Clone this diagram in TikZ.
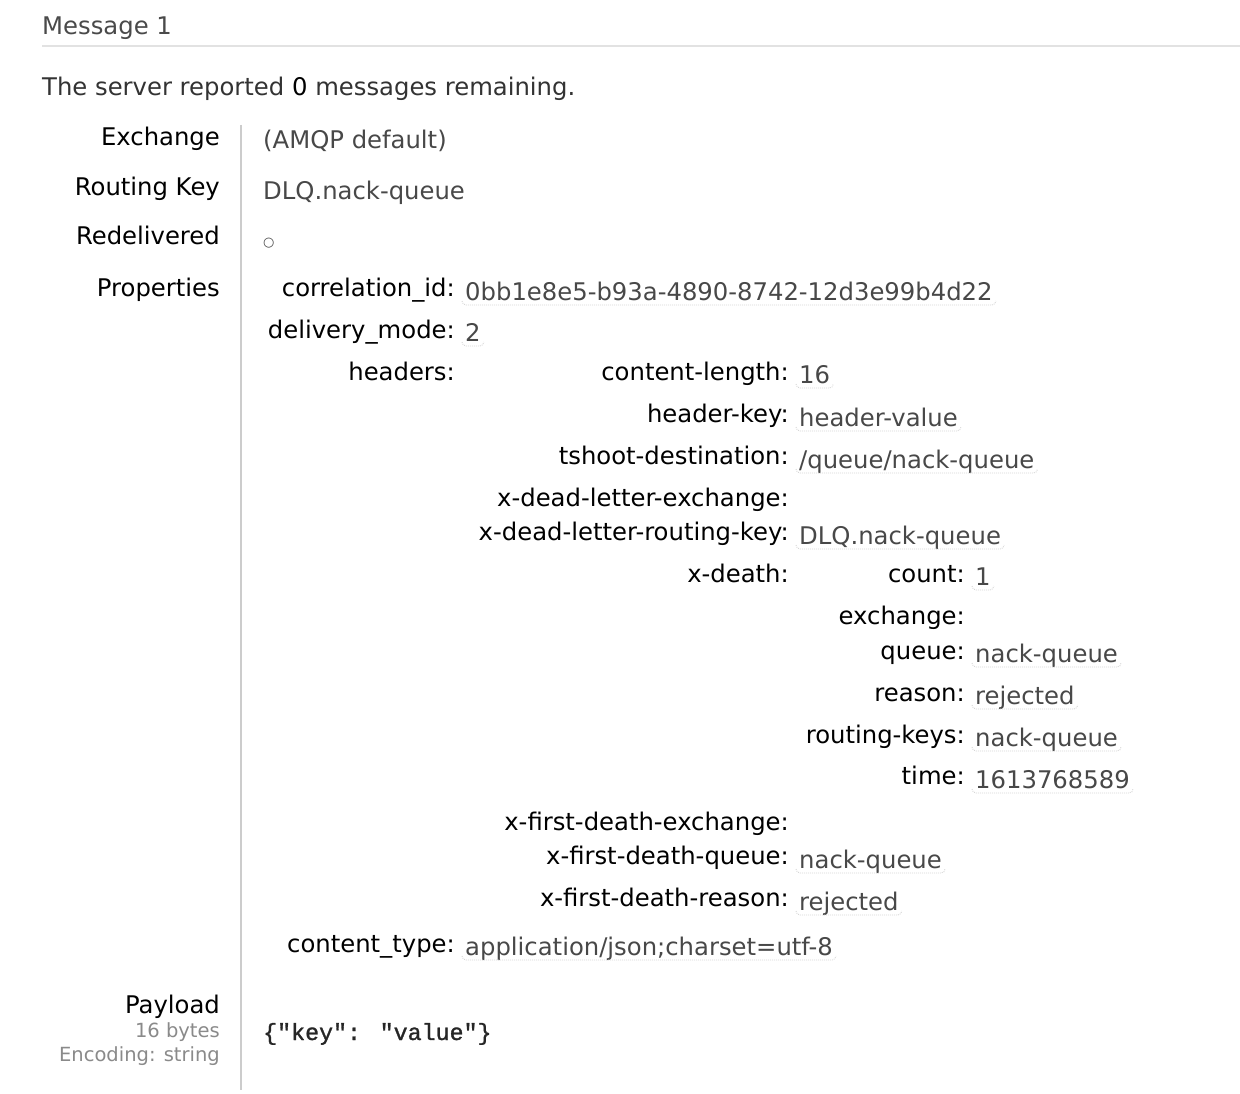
\documentclass[tikz,border=0pt]{standalone}
\usepackage{fontspec}
\setmainfont{DejaVu Sans}
\setmonofont{Liberation Mono}
\newfontfamily\payloadfont{Liberation Mono}[UprightFeatures={FakeBold=1.2}]
\definecolor{valgray}{HTML}{484848}
\definecolor{titlegray}{HTML}{4A4A4A}
\definecolor{notegray}{HTML}{8A8A8A}
\definecolor{rulegray}{HTML}{E2E2E2}
\definecolor{sepgray}{HTML}{CCCCCC}
\definecolor{dotgray}{HTML}{D6D6D6}
\begin{document}
\begin{tikzpicture}[x=1pt,y=-1pt]
        \tikzstyle{key}=[anchor=base east,inner sep=0pt,text=black,font=\fontsize{24.3}{28}\selectfont]
        \tikzstyle{val}=[anchor=base west,inner sep=0pt,text=valgray,font=\fontsize{24.3}{28}\selectfont]
        \tikzstyle{note}=[anchor=base east,inner sep=0pt,text=notegray,font=\fontsize{19.5}{22}\selectfont]
        \tikzstyle{uline}=[draw=dotgray,line width=0.9pt,dash pattern=on 0.9pt off 1.1pt,rounded corners=4pt]
        \useasboundingbox (0,0) rectangle (1240,1094);
        \fill[white] (0,0) rectangle (1240,1094);

        % heading
        \node [val,text=titlegray] (title) at (42,35) {Message 1};
        \draw [rulegray,line width=2pt] (42,46) -- (1240,46);
        \node [val,text=black!80] (remain) at (42,96) {The server reported \textcolor{black}{0} messages remaining.};
        \draw [sepgray,line width=2pt] (241,125) -- (241,1090);

        % message
        \node [key] (kExchange) at (220,146) {Exchange};
        \node [val] (vExchange) at (263,149) {(AMQP default)};
        \node [key] (kRouting) at (220,196) {Routing Key};
        \node [val] (vRouting) at (263,200) {DLQ.nack-queue};
        \node [key] (kRedel) at (220,245) {Redelivered};
        \node [val,font=\fontsize{13}{15}\selectfont] (vRedel) at (263,247) {○};
        \node [key] (kProps) at (220,296) {Properties};
        \node [key] (kPayload) at (220,1013) {Payload};
        \node [note] (nBytes) at (220,1037) {16 bytes};
        \node [note] (nEnc) at (220,1061) {Encoding: string};
        \node [val,text=black!85,font=\fontsize{23.3}{28}\payloadfont] (vPayload) at (263,1040) {\{"key": "value"\}};

        % properties
        \node [key] (kCorr) at (455,297) {correlation\_id:};
        \node [val] (vCorr) at (465,300) {0bb1e8e5-b93a-4890-8742-12d3e99b4d22};
        \node [key] (kMode) at (455,338) {delivery\_mode:};
        \node [val] (vMode) at (465,341) {2};
        \node [key] (kHeaders) at (455,380) {headers:};
        \node [key] (kCtype) at (455,952) {content\_type:};
        \node [val] (vCtype) at (465,955) {application/json;charset=utf-8};

        % headers
        \node [key] (kCLen) at (789,380) {content-length:};
        \node [val] (vCLen) at (799,383) {16};
        \node [key] (kHKey) at (789,422) {header-key:};
        \node [val] (vHKey) at (799,426) {header-value};
        \node [key] (kTshoot) at (789,464) {tshoot-destination:};
        \node [val] (vTshoot) at (799,468) {/queue/nack-queue};
        \node [key] (kDlx) at (789,506) {x-dead-letter-exchange:};
        \node [key] (kDlrk) at (789,540) {x-dead-letter-routing-key:};
        \node [val] (vDlrk) at (799,544) {DLQ.nack-queue};
        \node [key] (kDeath) at (789,582) {x-death:};
        \node [key] (kFdEx) at (789,830) {x-first-death-exchange:};
        \node [key] (kFdQ) at (789,864) {x-first-death-queue:};
        \node [val] (vFdQ) at (799,868) {nack-queue};
        \node [key] (kFdR) at (789,906) {x-first-death-reason:};
        \node [val] (vFdR) at (799,910) {rejected};

        % x-death
        \node [key] (kCount) at (965,582) {count:};
        \node [val] (vCount) at (975,585) {1};
        \node [key] (kDex) at (965,624) {exchange:};
        \node [key] (kDq) at (965,659) {queue:};
        \node [val] (vDq) at (975,662) {nack-queue};
        \node [key] (kDr) at (965,701) {reason:};
        \node [val] (vDr) at (975,704) {rejected};
        \node [key] (kDrk) at (965,743) {routing-keys:};
        \node [val] (vDrk) at (975,746) {nack-queue};
        \node [key] (kDt) at (965,784) {time:};
        \node [val] (vDt) at (975,788) {1613768589};

        \foreach \v in {vCorr,vMode,vCtype,vCLen,vHKey,vTshoot,vDlrk,vFdQ,vFdR,vCount,vDq,vDr,vDrk,vDt}
          \draw [uline] ([shift={(-3,1)}]\v.base west) -- ([shift={(-3,5)}]\v.base west)
                -- ([shift={(3,5)}]\v.base east) -- ([shift={(3,1)}]\v.base east);
\end{tikzpicture}
\end{document}
